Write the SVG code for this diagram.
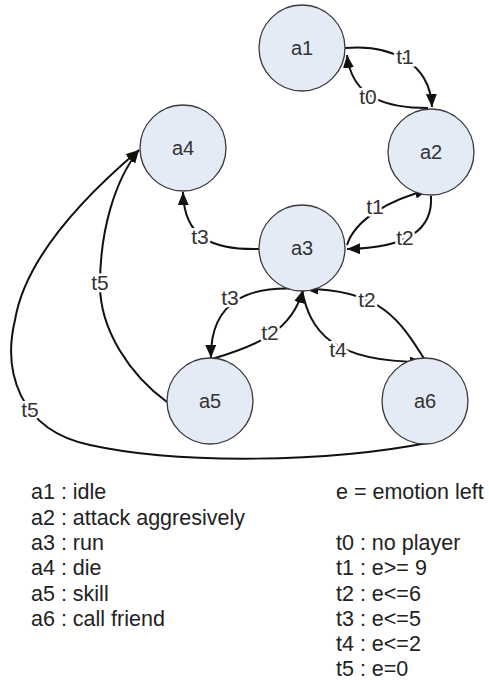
<svg xmlns="http://www.w3.org/2000/svg" width="489" height="681" viewBox="0 0 489 681">
<style>
.node{fill:#e4eaf6;stroke:#3a3a3a;stroke-width:1.3}
.nl{font-family:"Liberation Sans",Arial,sans-serif;font-size:20px;fill:#333;text-anchor:middle}
.e{fill:none;stroke:#111;stroke-width:2}
.el{font-family:"Liberation Sans",Arial,sans-serif;font-size:21px;fill:#333;text-anchor:middle;stroke:#fff;stroke-width:5;paint-order:stroke}
.lg{font-family:"Liberation Sans",Arial,sans-serif;font-size:21.5px;fill:#222}
</style>
<defs>
<marker id="arr" viewBox="0 0 13 11" refX="13" refY="5.5" markerWidth="13" markerHeight="11" markerUnits="userSpaceOnUse" orient="auto">
<path d="M0,0 L13,5.5 L0,11 z" fill="#111"/>
</marker>
</defs>
<g id="connectors">
<path class="e" marker-end="url(#arr)" d="M345,48 C390,44 430,62 432,107"/>
<path class="e" marker-end="url(#arr)" d="M428,108 C390,108 352,100 347,55"/>
<path class="e" marker-end="url(#arr)" d="M347,245 C355,220 388,200 428,190"/>
<path class="e" marker-end="url(#arr)" d="M431,196 C433,228 410,248 347,249"/>
<path class="e" marker-end="url(#arr)" d="M259,249 C215,250 184,240 183,192"/>
<path class="e" marker-end="url(#arr)" d="M302,289 C250,285 210,300 211,358"/>
<path class="e" marker-end="url(#arr)" d="M212,359 C260,345 292,330 303,290"/>
<path class="e" marker-end="url(#arr)" d="M302,290 C310,330 330,362 423,362"/>
<path class="e" marker-end="url(#arr)" d="M425,360 C400,320 380,289 305,289"/>
<path class="e" marker-end="url(#arr)" d="M167,402 C130,375 100,330 100,285 C100,230 115,180 139,150"/>
<path class="e" marker-end="url(#arr)" d="M427,443 C330,462 180,465 90,445 C18,430 3,370 15,320 C25,260 80,200 139,150"/>
<text class="el" x="405" y="64">t1</text>
<text class="el" x="368" y="104">t0</text>
<text class="el" x="375" y="214">t1</text>
<text class="el" x="405" y="245">t2</text>
<text class="el" x="200" y="244">t3</text>
<text class="el" x="230" y="305">t3</text>
<text class="el" x="270" y="340">t2</text>
<text class="el" x="338" y="357">t4</text>
<text class="el" x="367" y="307">t2</text>
<text class="el" x="100" y="290">t5</text>
<text class="el" x="30" y="417">t5</text>
</g>
<g id="a1"><circle class="node" cx="302" cy="48" r="43"/><text class="nl" x="302" y="55">a1</text></g>
<g id="a2"><circle class="node" cx="431" cy="152" r="43"/><text class="nl" x="431" y="159">a2</text></g>
<g id="a3"><circle class="node" cx="302" cy="248" r="43"/><text class="nl" x="302" y="255">a3</text></g>
<g id="a4"><circle class="node" cx="183" cy="148" r="43"/><text class="nl" x="183" y="155">a4</text></g>
<g id="a5"><circle class="node" cx="210" cy="401" r="43"/><text class="nl" x="210" y="408">a5</text></g>
<g id="a6"><circle class="node" cx="425" cy="401" r="43"/><text class="nl" x="425" y="408">a6</text></g>
<g id="legend">
<text class="lg" x="31" y="499">a1 : idle</text>
<text class="lg" x="31" y="524.5">a2 : attack aggresively</text>
<text class="lg" x="31" y="550">a3 : run</text>
<text class="lg" x="31" y="575">a4 : die</text>
<text class="lg" x="31" y="600.5">a5 : skill</text>
<text class="lg" x="31" y="626">a6 : call friend</text>
<text class="lg" x="336" y="499">e = emotion left</text>
<text class="lg" x="336" y="550">t0 : no player</text>
<text class="lg" x="336" y="575">t1 : e&gt;= 9</text>
<text class="lg" x="336" y="600.5">t2 : e&lt;=6</text>
<text class="lg" x="336" y="626">t3 : e&lt;=5</text>
<text class="lg" x="336" y="651">t4 : e&lt;=2</text>
<text class="lg" x="336" y="676">t5 : e=0</text>
</g>
</svg>
